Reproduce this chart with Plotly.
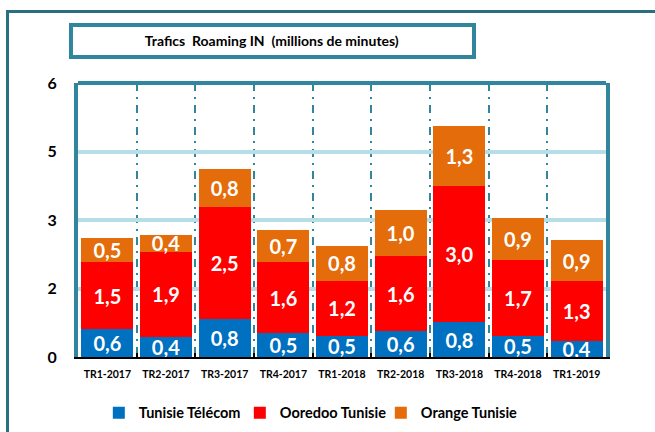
import plotly.graph_objects as go

# Roaming IN traffic (millions de minutes)
trimestres = ["TR1-2017", "TR2-2017", "TR3-2017", "TR4-2017", "TR1-2018",
              "TR2-2018", "TR3-2018", "TR4-2018", "TR1-2019"]
tunisie_telecom = [0.61, 0.44, 0.83, 0.52, 0.47, 0.57, 0.76, 0.46, 0.36]
ooredoo = [1.46, 1.86, 2.46, 1.56, 1.19, 1.64, 2.98, 1.66, 1.30]
orange = [0.54, 0.38, 0.83, 0.70, 0.78, 1.00, 1.32, 0.93, 0.90]

y_ticks = [0, 1.5, 3, 4.5, 6]
y_labels = ["0", "2", "3", "5", "6"]

FONT = "Lato"
TEAL = "#31859C"

fig = go.Figure()
for name, vals, col in [("Tunisie Télécom", tunisie_telecom, "#0070C0"),
                        ("Ooredoo Tunisie", ooredoo, "#FF0000"),
                        ("Orange Tunisie", orange, "#E46C0A")]:
    fig.add_trace(go.Bar(x=trimestres, y=vals, name=name,
                         marker=dict(color=col, line=dict(width=0)),
                         texttemplate="%{y:.1f}", textposition="inside",
                         insidetextanchor="middle", textangle=0,
                         textfont=dict(family=FONT, size=20, color="white", weight="bold")))

fig.update_layout(
    width=655, height=432,
    barmode="stack", bargap=0.114,
    separators=",.",
    uniformtext=dict(minsize=20, mode="show"),
    plot_bgcolor="white", paper_bgcolor="white",
    margin=dict(l=78, r=49, t=83, b=75, autoexpand=False),
    font=dict(family=FONT, color="black"),
    title=dict(text="<b>Trafics  Roaming IN  (millions de minutes)</b>",
               x=0.367, xref="paper", xanchor="center",
               y=0.905, yref="container", yanchor="middle",
               font=dict(family=FONT, size=14, color="black")),
    legend=dict(orientation="h", x=0.44, xanchor="center", y=-0.204, yanchor="middle",
                font=dict(family=FONT, size=14.5, weight="bold"), itemwidth=30,
                entrywidth=96, entrywidthmode="pixels",
                traceorder="normal"),
    showlegend=True,
)

fig.update_xaxes(type="category", tickson="boundaries", tickangle=0,
                 showgrid=True, gridcolor=TEAL, gridwidth=2, griddash="8px,6px,2px,6px",
                 showline=True, linecolor="black", linewidth=2,
                 ticks="inside", ticklen=4, tickcolor="black", tickwidth=1.5,
                 ticklabelstandoff=6,
                 tickfont=dict(family=FONT, size=10.5, weight="bold", color="black"))
fig.update_yaxes(range=[0, 6], tickvals=y_ticks, ticktext=y_labels,
                 showgrid=True, gridcolor="#B7DDE8", gridwidth=4, zeroline=False,
                 showline=True, mirror=True, linecolor=TEAL, linewidth=4,
                 ticks="outside", ticklen=14, tickcolor="rgba(0,0,0,0)",
                 tickfont=dict(family=FONT, size=16, weight="bold", color="black"))

# top edge of plot frame, title box, outer frame
fig.add_shape(type="line", xref="paper", yref="paper", x0=0, x1=1, y0=1, y1=1,
              line=dict(color=TEAL, width=4))
fig.add_shape(type="rect", xref="paper", yref="paper", x0=-0.0133, x1=0.75, y0=1.095, y1=1.212,
              line=dict(color=TEAL, width=4), fillcolor="white", layer="below")
fig.add_shape(type="rect", xref="paper", yref="paper", x0=-0.1335, x1=1.2, y0=1.261, y1=-0.5,
              line=dict(color="#2B6E7F", width=3), layer="below")

fig.write_html("out.html", config={"displayModeBar": False},
               post_script="document.body.style.margin='0';")
